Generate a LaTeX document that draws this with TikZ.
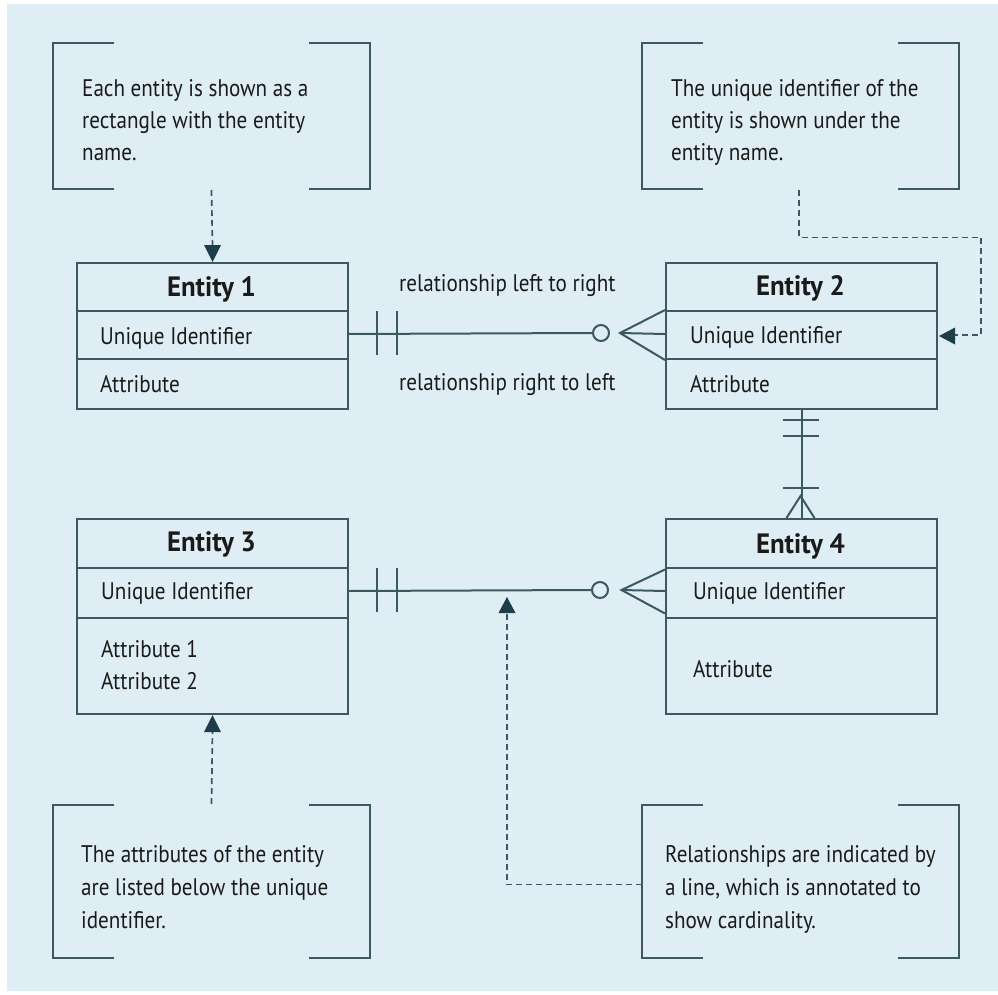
\documentclass[tikz,border=0pt]{standalone}
\usepackage{fontspec}
\setmainfont{PT Sans}[FakeStretch=0.88]
\newfontfamily\ttlfont{PT Sans}[FakeStretch=0.96]
\usetikzlibrary{arrows.meta}
\definecolor{bg}{HTML}{DFEEF4}
\definecolor{ln}{HTML}{3B5863}
\definecolor{ah}{HTML}{1D3D4A}
\definecolor{tx}{HTML}{1A1A1A}
\tikzset{
  row/.style={draw=ln, line width=2pt, minimum width=271pt, inner sep=0pt, anchor=north west},
  ttl/.style={font=\ttlfont\bfseries\fontsize{28}{32}\selectfont, text=tx, anchor=base, inner sep=0pt},
  txt/.style={font=\fontsize{24}{28}\selectfont, text=tx, anchor=base west, inner sep=0pt},
  ctxt/.style={font=\fontsize{24}{28}\selectfont, text=tx, anchor=base west, inner sep=0pt},
  rel/.style={draw=ln, line width=2pt},
  bracket/.style={draw=ln, line width=2pt},
  dsh/.style={draw=ln, line width=1.7pt, dash pattern=on 6pt off 4pt},
  ring/.style={circle, draw=ln, line width=2pt, fill=bg, minimum size=16pt, inner sep=0pt}
}
\begin{document}
\begin{tikzpicture}[x=1pt,y=-1pt]
\useasboundingbox (0,0) rectangle (998,995);
\fill[bg] (7,4) rectangle (998,991);

% ---------- Entities ----------
\node[row, minimum height=48pt] (e1t) at (76,262) {};
\node[row, minimum height=48pt] (e1u) at (76,310) {};
\node[row, minimum height=50pt] (e1a) at (76,358) {};

\node[row, minimum height=48pt] (e2t) at (665,262) {};
\node[row, minimum height=48pt] (e2u) at (665,310) {};
\node[row, minimum height=50pt] (e2a) at (665,358) {};

\node[row, minimum height=49pt] (e3t) at (76,518) {};
\node[row, minimum height=50pt] (e3u) at (76,567) {};
\node[row, minimum height=96pt] (e3a) at (76,617) {};

\node[row, minimum height=49pt] (e4t) at (665,518) {};
\node[row, minimum height=50pt] (e4u) at (665,567) {};
\node[row, minimum height=96pt] (e4a) at (665,617) {};

% ---------- Entity texts ----------
\node[ttl] (e1n) at (211.5,296) {Entity 1};
\node[txt] (e1ut) at (100,344) {Unique Identifier};
\node[txt] (e1at) at (100,392) {Attribute};

\node[ttl] (e2n) at (800.5,295) {Entity 2};
\node[txt] (e2ut) at (690,343.5) {Unique Identifier};
\node[txt] (e2at) at (690,392) {Attribute};

\node[ttl] (e3n) at (211.5,551) {Entity 3};
\node[txt] (e3ut) at (101,599.5) {Unique Identifier};
\node[txt] (e3a1) at (101,657) {Attribute 1};
\node[txt] (e3a2) at (101,689.5) {Attribute 2};

\node[ttl] (e4n) at (800.5,553) {Entity 4};
\node[txt] (e4ut) at (693,599.5) {Unique Identifier};
\node[txt] (e4at) at (693,677.5) {Attribute};

% ---------- Relationship 1 -> 2 ----------
\node[ring] (c1) at (601,333) {};
\draw[rel] ([yshift=1pt]e1u.east) -- (c1.west);
\draw[rel] (377,311) -- (377,355);
\draw[rel] (397,311) -- (397,355);
\coordinate (a1) at (620,333);
\draw[rel] (e2u.north west) -- (a1) -- (e2u.south west);
\draw[rel] (a1) -- ([yshift=1pt]e2u.west);
\node[txt] (lr) at (399,291.5) {relationship left to right};
\node[txt] (rl) at (399,390) {relationship right to left};

% ---------- Relationship 2 -> 4 ----------
\draw[rel] (e2a.south) -- (e4t.north);
\draw[rel] (782.5,419.5) -- (818.5,419.5);
\draw[rel] (782.5,436) -- (818.5,436);
\draw[rel] (782.5,488) -- (818.5,488);
\coordinate (a2) at (800.5,496);
\draw[rel] (786.5,518) -- (a2) -- (814.5,518);

% ---------- Relationship 3 -> 4 ----------
\node[ring] (c2) at (600,590) {};
\draw[rel] ([yshift=2pt]e3u.east) -- (c2.west);
\draw[rel] (377,568) -- (377,612);
\draw[rel] (397,568) -- (397,612);
\coordinate (a3) at (621.5,590);
\draw[rel] (665,569.5) -- (a3) -- (665,613.5);
\draw[rel] (a3) -- ([yshift=2pt]e4u.west);

% ---------- Callout brackets ----------
\draw[bracket] (114,43) -- (53,43) -- (53,189) -- (114,189);
\draw[bracket] (309,43) -- (370,43) -- (370,189) -- (309,189);

\draw[bracket] (703,43) -- (642,43) -- (642,189) -- (703,189);
\draw[bracket] (898,43) -- (959,43) -- (959,189) -- (898,189);

\draw[bracket] (114,805) -- (53,805) -- (53,958) -- (114,958);
\draw[bracket] (309,805) -- (370,805) -- (370,958) -- (309,958);

\draw[bracket] (703,805) -- (642,805) -- (642,958) -- (703,958);
\draw[bracket] (898,805) -- (959,805) -- (959,958) -- (898,958);

% ---------- Callout texts ----------
\node[ctxt] (n1) at (82,97) {\vtop{\baselineskip=32pt\hbox{Each entity is shown as a}\hbox{rectangle with the entity}\hbox{name.}}};
\node[ctxt] (n2) at (671,97) {\vtop{\baselineskip=32pt\hbox{The unique identifier of the}\hbox{entity is shown under the}\hbox{entity name.}}};
\node[ctxt] (n3) at (81,862) {\vtop{\baselineskip=33pt\hbox{The attributes of the entity}\hbox{are listed below the unique}\hbox{identifier.}}};
\node[ctxt] (n4) at (665,862) {\vtop{\baselineskip=33pt\hbox{Relationships are indicated by}\hbox{a line, which is annotated to}\hbox{show cardinality.}}};

% ---------- Dashed pointers ----------
\coordinate (k1) at (211.5,190);
\coordinate (k2) at (799,190);
\coordinate (k3) at (211.5,804);
\coordinate (k4) at (642,884.5);
\coordinate (p4) at (507,597);

\draw[dsh] (k1) -- ([yshift=15pt]e1t.north);
\fill[ah] (e1t.north) -- ++(-8.5,-17) -- ++(17,0) -- cycle;

\draw[dsh] (k2) -- (799,237.5) -- (981,237.5) -- (981,335) -- (952,335);
\fill[ah] ([yshift=-1pt]e2u.east) ++(1,0) -- ++(16,-8.5) -- ++(0,17) -- cycle;

\draw[dsh] (k3) -- ([yshift=-15pt]e3a.south);
\fill[ah] (e3a.south) -- ++(-8.5,17) -- ++(17,0) -- cycle;

\draw[dsh] (k4) -| (507,612);
\fill[ah] (p4) -- ++(-8.5,16) -- ++(17,0) -- cycle;
\end{tikzpicture}
\end{document}
